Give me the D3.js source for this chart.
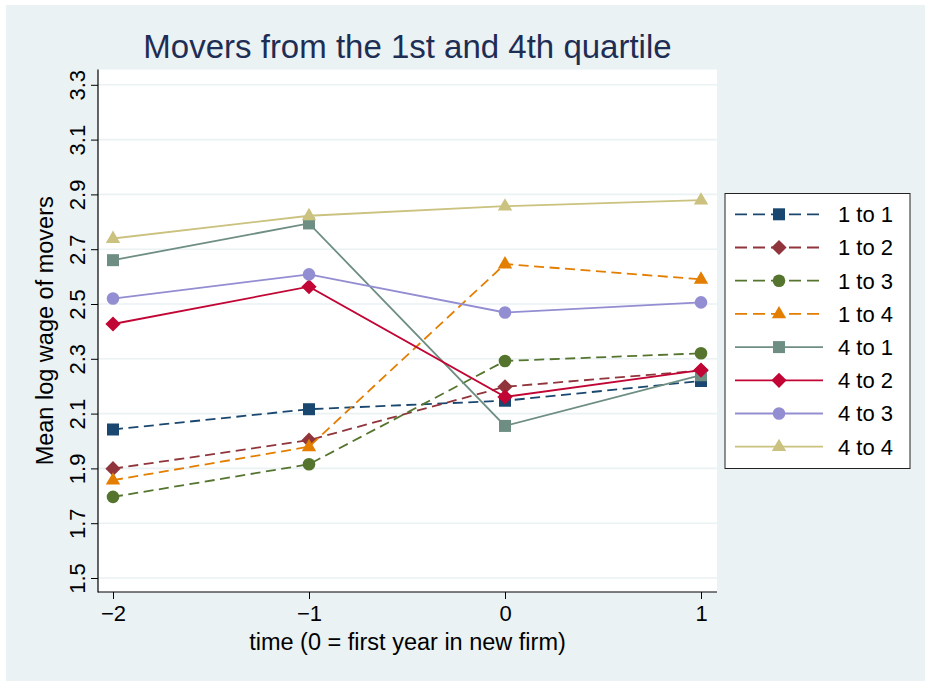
<!DOCTYPE html>
<html>
<head>
<meta charset="utf-8">
<script src="https://cdn.jsdelivr.net/npm/d3@7"></script>
<style>
  body { margin: 0; background: #fff; }
  text { font-family: "Liberation Sans", Arial, Helvetica, sans-serif; }
</style>
</head>
<body>
<div id="chart"></div>
<script>
// time relative to move, and mean log wage for each mover group
const times = [-2, -1, 0, 1];
const xTickLabels = ["\u22122", "\u22121", "0", "1"];
const yTicks = [1.5, 1.7, 1.9, 2.1, 2.3, 2.5, 2.7, 2.9, 3.1, 3.3];

const groups = ["1 to 1", "1 to 2", "1 to 3", "1 to 4", "4 to 1", "4 to 2", "4 to 3", "4 to 4"];
const wage11 = [2.042, 2.116, 2.147, 2.219];
const wage12 = [1.899, 2.003, 2.198, 2.257];
const wage13 = [1.796, 1.915, 2.292, 2.320];
const wage14 = [1.857, 1.979, 2.646, 2.590];
const wage41 = [2.660, 2.794, 2.055, 2.240];
const wage42 = [2.427, 2.563, 2.161, 2.259];
const wage43 = [2.520, 2.608, 2.469, 2.506];
const wage44 = [2.739, 2.822, 2.857, 2.879];
const wages = [wage11, wage12, wage13, wage14, wage41, wage42, wage43, wage44];

// stata s2color look
const colors = ["#1a476f", "#90353b", "#55752f", "#e37e00", "#6e8e84", "#c10534", "#938dd2", "#cac27e"];
const shapes = ["square", "diamond", "circle", "triangle", "square", "diamond", "circle", "triangle"];
const dashed = [true, true, true, true, false, false, false, false];

const width = 931, height = 683;
const plot = {left: 98, right: 717, top: 69.6, bottom: 592};

const svg = d3.select('#chart').append('svg')
  .attr('width', width)
  .attr('height', height);

// graph region + plot region
svg.append('rect').attr('x', 6).attr('y', 5).attr('width', 919).attr('height', 676).attr('fill', '#eaf2f3');
svg.append('rect')
  .attr('x', plot.left).attr('y', plot.top)
  .attr('width', plot.right - plot.left).attr('height', plot.bottom - plot.top)
  .attr('fill', '#fff');

const x = d3.scaleLinear().domain([-2, 1]).range([113, 701]);
const y = d3.scaleLinear().domain([1.5, 3.3]).range([578, 84.8]);

// grid
svg.append('g').selectAll('line')
  .data(yTicks)
  .enter().append('line')
  .attr('x1', plot.left).attr('x2', plot.right)
  .attr('y1', d => y(d)).attr('y2', d => y(d))
  .attr('stroke', '#eaf2f3').attr('stroke-width', 1.6);

// axes
const yAxis = svg.append('g')
  .attr('transform', `translate(${plot.left},0)`)
  .call(d3.axisLeft(y).tickValues(yTicks).tickSize(7).tickFormat(d3.format('.1f')));
yAxis.select('.domain').remove();
yAxis.selectAll('text')
  .attr('transform', 'rotate(-90)')
  .attr('x', 0).attr('y', -13).attr('dy', 0)
  .attr('text-anchor', 'middle')
  .attr('font-size', 22).attr('fill', '#000');

const xAxis = svg.append('g')
  .attr('transform', `translate(0,${plot.bottom})`)
  .call(d3.axisBottom(x).tickValues(times).tickSize(7).tickFormat((d, i) => xTickLabels[i]));
xAxis.select('.domain').remove();
xAxis.selectAll('text').attr('y', 13).attr('font-size', 22).attr('fill', '#000');
svg.selectAll('.tick line').attr('stroke', '#000');

svg.append('line')
  .attr('x1', plot.left).attr('x2', plot.left)
  .attr('y1', plot.top).attr('y2', plot.bottom + 0.5)
  .attr('stroke', '#000').attr('stroke-width', 1.2);
svg.append('line')
  .attr('x1', plot.left).attr('x2', plot.right)
  .attr('y1', plot.bottom).attr('y2', plot.bottom)
  .attr('stroke', '#000').attr('stroke-width', 1.2);

// marker paths, centred on 0,0
function markerPath(shape) {
  if (shape == 'square') return 'M-6,-6H6V6H-6Z';
  if (shape == 'diamond') return 'M0,-7.6L7.6,0L0,7.6L-7.6,0Z';
  if (shape == 'circle') return 'M6.3,0A6.3,6.3 0 1,1 -6.3,0A6.3,6.3 0 1,1 6.3,0Z';
  return 'M0,-8L7.2,4.4H-7.2Z';
}

const line = d3.line()
  .x((d, i) => x(times[i]))
  .y(d => y(d));

wages.forEach(function(series, k) {
  const g = svg.append('g');
  g.append('path')
    .attr('d', line(series))
    .attr('fill', 'none')
    .attr('stroke', colors[k])
    .attr('stroke-width', 1.8)
    .attr('stroke-dasharray', dashed[k] ? '10,5.5' : null);
  g.selectAll('path.mk')
    .data(series)
    .enter().append('path')
    .attr('class', 'mk')
    .attr('d', markerPath(shapes[k]))
    .attr('transform', (d, i) => `translate(${x(times[i])},${y(d)})`)
    .attr('fill', colors[k]);
});

// titles
svg.append('text')
  .attr('x', (plot.left + plot.right) / 2).attr('y', 58)
  .attr('text-anchor', 'middle')
  .attr('font-size', 33).attr('fill', '#1e2d53')
  .text('Movers from the 1st and 4th quartile');

svg.append('text')
  .attr('x', (plot.left + plot.right) / 2).attr('y', 650)
  .attr('text-anchor', 'middle')
  .attr('font-size', 23.5).attr('fill', '#000')
  .text('time (0 = first year in new firm)');

svg.append('text')
  .attr('transform', `translate(53,${(plot.top + plot.bottom) / 2}) rotate(-90)`)
  .attr('text-anchor', 'middle')
  .attr('font-size', 23.5).attr('fill', '#000')
  .text('Mean log wage of movers');

// legend
const legend = svg.append('g');
legend.append('rect')
  .attr('x', 725).attr('y', 193.5).attr('width', 185).attr('height', 275)
  .attr('fill', '#fff').attr('stroke', '#222').attr('stroke-width', 1);

const rows = legend.selectAll('g.row')
  .data(groups)
  .enter().append('g')
  .attr('class', 'row')
  .attr('transform', (d, i) => `translate(0,${214.3 + i * 33.2})`);

rows.append('line')
  .attr('x1', 735).attr('x2', 823)
  .attr('stroke', (d, i) => colors[i])
  .attr('stroke-width', 1.8)
  .attr('stroke-dasharray', (d, i) => dashed[i] ? '12,6' : null);
rows.append('path')
  .attr('d', (d, i) => markerPath(shapes[i]))
  .attr('transform', 'translate(779,0)')
  .attr('fill', (d, i) => colors[i]);
rows.append('text')
  .attr('x', 838).attr('dy', '0.36em')
  .attr('font-size', 22).attr('fill', '#000')
  .text(d => d);
</script>
</body>
</html>
